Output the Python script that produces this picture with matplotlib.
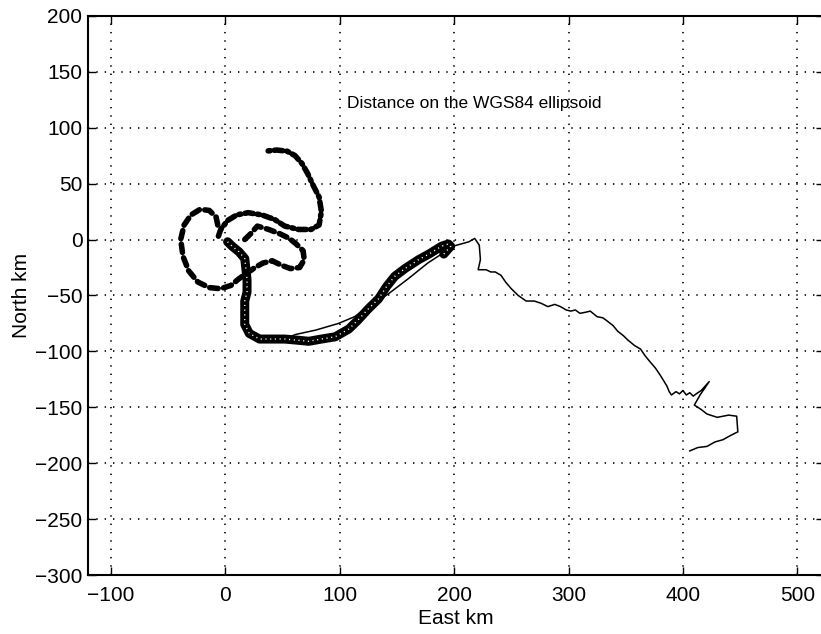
import numpy as np
import matplotlib
matplotlib.use('Agg')
import matplotlib.pyplot as plt

plt.rcParams['font.family'] = ['Liberation Sans', 'DejaVu Sans']
plt.rcParams['lines.scale_dashes'] = False

# 얇은 실선 궤적 (East km, North km)
thin_x = [55, 61, 79, 99, 113, 125, 142, 160, 177, 192, 199, 206, 213, 218, 222, 223,
          221, 228, 232, 236, 241, 245, 250, 256, 263, 270, 276, 282, 288, 293, 298,
          302, 306, 310, 315, 319, 325, 330, 334, 339, 343, 348, 352, 358, 363, 367,
          371, 376, 380, 386, 388, 390, 394, 397, 400, 403, 406, 409, 413, 416, 423,
          415, 410, 416, 421, 430, 440, 447, 448, 442, 435, 428, 421, 413, 406]
thin_y = [-88, -85, -81, -75, -69, -60, -49, -35, -21, -11, -6, -4, -2, 1, -5, -18,
          -27, -27, -29, -29, -32, -38, -44, -50, -55, -55, -57, -60, -58, -60, -63,
          -64, -63, -66, -65, -64, -69, -70, -73, -77, -82, -86, -90, -95, -98, -104,
          -109, -115, -121, -131, -136, -139, -136, -138, -135, -139, -137, -140,
          -137, -135, -127, -139, -148, -152, -156, -159, -157, -158, -172, -175,
          -179, -181, -185, -186, -189]

# 원형 마커 궤적
circ_x = [2, 6, 12, 17, 18, 19, 19, 17, 17, 17, 21, 30, 41, 52, 63, 73, 84, 96, 108,
          116, 125, 134, 141, 148, 157, 169, 178, 189, 195, 197, 191]
circ_y = [-2, -6, -11, -17, -26, -36, -47, -55, -67, -76, -84, -89, -89, -89, -90, -91,
          -89, -87, -80, -72, -62, -53, -42, -33, -26, -18, -13, -6, -4, -6, -13]

# 일점쇄선 궤적
dd_x = [-6, -4, 2, 10, 20, 32, 43, 52, 64, 75, 82, 84, 82, 77, 72, 67, 61, 54, 45, 35]
dd_y = [3, 9, 17, 22, 24, 22, 18, 12, 9, 9, 13, 25, 38, 48, 59, 68, 75, 79, 80, 79]

# 파선 궤적
da_x = [17, 22, 28, 38, 48, 56, 62, 68, 69, 65, 57, 49, 41, 33, 26, 19, 12, 5, -4,
        -14, -24, -32, -37, -39, -36, -30, -22, -14, -8, -6]
da_y = [0, 5, 12, 9, 5, 1, -4, -10, -18, -25, -26, -23, -19, -21, -25, -30, -35, -41,
        -44, -43, -38, -28, -15, 0, 13, 22, 27, 26, 20, 10]

x_ticks = [-100, 0, 100, 200, 300, 400, 500]
y_ticks = [-300, -250, -200, -150, -100, -50, 0, 50, 100, 150, 200]

fig = plt.figure(figsize=(8.21, 6.34), dpi=100)
ax = fig.add_axes([0.1072, 0.093, 0.896, 0.882])

# 궤적 그리기
ax.plot(thin_x, thin_y, color='black', lw=1.1)
ax.plot(circ_x, circ_y, color='black', lw=6.5, solid_capstyle='round',
        solid_joinstyle='round')
ax.plot(circ_x, circ_y, color='white', lw=1.0, linestyle=(0, (0.8, 2.6)))
ax.plot(dd_x, dd_y, color='black', lw=4, linestyle=(0, (6, 3, 1.5, 3)),
        dash_capstyle='round')
ax.plot(da_x, da_y, color='black', lw=4, linestyle=(0, (6, 4)),
        dash_capstyle='round')

ax.text(106, 122, 'Distance on the WGS84 ellipsoid', fontsize=12.5,
        ha='left', va='center')

# 축 설정
ax.set_xlim(-120, 523)
ax.set_ylim(-300, 200)
ax.set_xticks(x_ticks)
ax.set_yticks(y_ticks)
ax.set_yticklabels([str(v).replace('-', '\u2212') for v in y_ticks])
ax.set_xticklabels([str(v).replace('-', '\u2212') for v in x_ticks])
ax.tick_params(direction='in', length=6, width=1, labelsize=15,
               top=True, right=True, pad=4)
ax.tick_params(axis='x', pad=8)
ax.grid(True, color='black', linestyle=(0, (1, 5)), lw=1.2)
for s in ax.spines.values():
    s.set_linewidth(1.5)

ax.set_xlabel('East km', fontsize=15, labelpad=3)
ax.set_ylabel('North km', fontsize=15)
ax.yaxis.set_label_coords(-0.078, 0.5)

fig.savefig('out.png', dpi=100)
